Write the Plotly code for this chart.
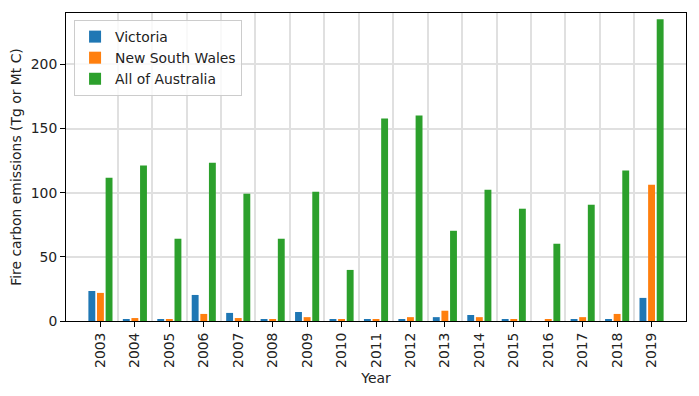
import plotly.graph_objects as go

years = [2003, 2004, 2005, 2006, 2007, 2008, 2009, 2010, 2011,
         2012, 2013, 2014, 2015, 2016, 2017, 2018, 2019]
victoria = [23.4, 0.8, 0.8, 20.3, 6.3, 0.8, 7.0, 0.8, 0.8,
            0.8, 3.0, 4.7, 0.8, 0.0, 0.8, 0.8, 18.0]
nsw = [21.9, 2.3, 1.5, 5.5, 2.3, 0.8, 3.0, 0.8, 1.5,
       3.0, 8.0, 3.0, 0.8, 1.5, 3.0, 5.5, 106.2]
australia = [111.7, 121.1, 64.1, 123.4, 99.2, 64.1, 100.8, 39.8, 157.8,
             160.2, 70.3, 102.3, 87.5, 60.2, 90.6, 117.2, 235.2]

series = [("Victoria", victoria, "#1f77b4", -0.35),
          ("New South Wales", nsw, "#ff7f0e", -0.1),
          ("All of Australia", australia, "#2ca02c", 0.15)]

FONT = "DejaVu Sans"
FS = 13.9

fig = go.Figure()
for name, vals, color, off in series:
    fig.add_trace(go.Bar(x=years, y=vals, name=name, marker_color=color,
                         marker_line_width=0, width=0.2, offset=off))

fig.update_layout(
    width=699, height=396,
    margin=dict(l=66, r=13, t=13, b=75),
    plot_bgcolor="white", paper_bgcolor="white",
    barmode="overlay",
    font=dict(family=FONT, size=FS, color="#222222"),
    showlegend=True,
    legend=dict(x=0.013, y=0.977, xanchor="left", yanchor="top",
                bgcolor="rgba(255,255,255,0.8)", bordercolor="#cccccc",
                borderwidth=1, font=dict(family=FONT, size=FS, color="#222222")),
    xaxis=dict(
        range=[2002, 2020], tickmode="array", tickvals=years,
        ticktext=[str(y) for y in years], tickangle=-90, automargin=False,
        ticks="outside", ticklen=5, tickwidth=1, tickcolor="black",
        showline=True, mirror=True, linecolor="black", linewidth=1,
        showgrid=False, zeroline=False,
        minor=dict(tickvals=[y + 0.5 for y in years[:-1]], showgrid=True,
                   gridcolor="#e0e0e0", gridwidth=1.5, ticks=""),
        title=dict(text="Year", font=dict(family=FONT, size=FS), standoff=6),
    ),
    yaxis=dict(
        range=[0, 240], tickvals=[0, 50, 100, 150, 200], automargin=False,
        ticks="outside", ticklen=5, tickwidth=1, tickcolor="black",
        showline=True, mirror=True, linecolor="black", linewidth=1,
        showgrid=True, gridcolor="#e0e0e0", gridwidth=1.5, zeroline=False,
        title=dict(text="Fire carbon emissions (Tg or Mt C)",
                   font=dict(family=FONT, size=FS), standoff=5),
    ),
)

fig.write_html("out.html", config={"displayModeBar": False},
               post_script="document.body.style.margin='0';document.body.style.overflow='hidden';")
